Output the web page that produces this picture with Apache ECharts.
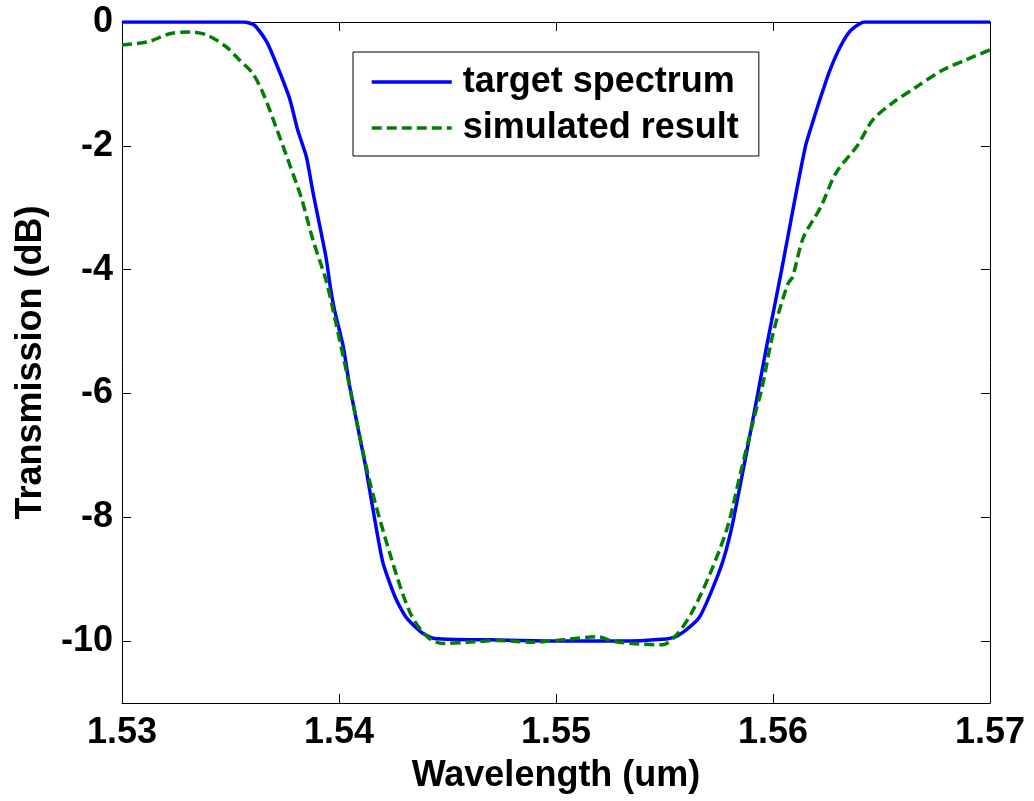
<!DOCTYPE html>
<html>
<head>
<meta charset="utf-8">
<script src="https://cdn.jsdelivr.net/npm/echarts@6/dist/echarts.min.js"></script>
<style>
html,body{margin:0;padding:0;background:#fff;}
#chart{width:1034px;height:801px;}
</style>
</head>
<body>
<div id="chart"></div>
<script>
var targetWavelength = [1.5300, 1.5356, 1.5361, 1.5367, 1.5377, 1.5381, 1.5385, 1.5388, 1.5394, 1.5396, 1.5398, 1.5402, 1.5405, 1.5412, 1.5420, 1.5426, 1.5431, 1.5438, 1.5443, 1.5450, 1.5470, 1.5500, 1.5530, 1.5549, 1.5555, 1.5560, 1.5566, 1.5571, 1.5577, 1.5582, 1.5593, 1.5597, 1.5604, 1.5610, 1.5615, 1.5618, 1.5622, 1.5626, 1.5631, 1.5636, 1.5642, 1.5700];
var targetTransmission = [0, 0, -0.05, -0.34, -1.21, -1.75, -2.18, -2.75, -3.80, -4.28, -4.66, -5.25, -5.90, -7.13, -8.70, -9.30, -9.62, -9.86, -9.95, -9.97, -9.98, -10.0, -10.0, -9.97, -9.93, -9.82, -9.62, -9.25, -8.70, -8.00, -6.00, -5.25, -4.00, -2.88, -2.00, -1.65, -1.21, -0.80, -0.40, -0.13, 0, 0];

var simWavelength = [1.5300, 1.5312, 1.5322, 1.5331, 1.5339, 1.5348, 1.5354, 1.5360, 1.5365, 1.5371, 1.5376, 1.5381, 1.5383, 1.5388, 1.5394, 1.5398, 1.5404, 1.5414, 1.5424, 1.5433, 1.5441, 1.5448, 1.5459, 1.5474, 1.5489, 1.5505, 1.5519, 1.5526, 1.5535, 1.5549, 1.5556, 1.5563, 1.5571, 1.5579, 1.5585, 1.5591, 1.5595, 1.5599, 1.5602, 1.5607, 1.5609, 1.5614, 1.5622, 1.5629, 1.5639, 1.5646, 1.5655, 1.5666, 1.5678, 1.5689, 1.5700];
var simTransmission = [-0.37, -0.32, -0.19, -0.16, -0.21, -0.40, -0.61, -0.82, -1.15, -1.70, -2.18, -2.67, -2.88, -3.52, -4.17, -4.77, -5.74, -7.40, -8.65, -9.56, -9.94, -10.04, -10.02, -9.99, -10.02, -9.97, -9.93, -10.00, -10.04, -10.06, -9.88, -9.51, -8.91, -8.16, -7.29, -6.43, -5.90, -5.19, -4.77, -4.22, -4.12, -3.48, -2.99, -2.44, -1.99, -1.58, -1.31, -1.05, -0.78, -0.61, -0.45];

var xTicks = [1.53, 1.54, 1.55, 1.56, 1.57];
var yTicks = [0, -2, -4, -6, -8, -10];

var seriesNames = ['target spectrum', 'simulated result'];

function pairs(xs, ys) {
  var out = [];
  for (var i = 0; i < xs.length; i++) out.push([xs[i], ys[i]]);
  return out;
}

var FONT = '"Liberation Sans", Arial, sans-serif';
var chart = echarts.init(document.getElementById('chart'), null, {renderer: 'canvas'});

var axisText = {fontFamily: FONT, fontWeight: 'bold', fontSize: 36, color: '#000'};

chart.setOption({
  animation: false,
  backgroundColor: '#fff',
  grid: {left: 122, right: 44, top: 22, bottom: 98, containLabel: false},
  legend: {
    left: 353, top: 52,
    orient: 'vertical',
    backgroundColor: '#fff',
    borderColor: '#000', borderWidth: 1,
    padding: [10, 20, 8, 17],
    itemWidth: 80, itemHeight: 14, itemGap: 6,
    itemStyle: {opacity: 0},
    textStyle: {fontFamily: FONT, fontWeight: 'bold', fontSize: 36, color: '#000', lineHeight: 40, padding: [0, 0, 0, 6]},
    data: [
      {name: seriesNames[0], lineStyle: {color: '#0000ff', width: 3.5, type: 'solid'}},
      {name: seriesNames[1], lineStyle: {color: '#008000', width: 3.5, type: [10, 5]}}
    ]
  },
  xAxis: [{
    type: 'value', min: 1.53, max: 1.57, interval: 0.01,
    position: 'bottom',
    name: 'Wavelength (um)', nameLocation: 'middle', nameGap: 55,
    nameTextStyle: axisText,
    axisLine: {show: true, onZero: false, lineStyle: {color: '#000', width: 1}},
    axisTick: {show: true, inside: true, length: 9, lineStyle: {color: '#000'}, customValues: xTicks},
    axisLabel: {show: true, margin: 12, customValues: xTicks, formatter: function(v){ return v.toFixed(2); }, fontFamily: FONT, fontWeight: 'bold', fontSize: 36, color: '#000'},
    splitLine: {show: false}
  }, {
    type: 'value', min: 1.53, max: 1.57, interval: 0.01,
    position: 'top',
    axisLine: {show: true, onZero: false, lineStyle: {color: '#000', width: 1}},
    axisTick: {show: true, inside: true, length: 9, lineStyle: {color: '#000'}, customValues: xTicks},
    axisLabel: {show: false},
    splitLine: {show: false}
  }],
  yAxis: [{
    type: 'value', min: -11, max: 0,
    position: 'left',
    name: 'Transmission (dB)', nameLocation: 'middle', nameGap: 73,
    nameTextStyle: axisText,
    axisLine: {show: true, onZero: false, lineStyle: {color: '#000', width: 1}},
    axisTick: {show: true, inside: true, length: 9, lineStyle: {color: '#000'}, customValues: yTicks},
    axisLabel: {show: true, margin: 9, customValues: yTicks, fontFamily: FONT, fontWeight: 'bold', fontSize: 36, color: '#000'},
    splitLine: {show: false}
  }, {
    type: 'value', min: -11, max: 0,
    position: 'right',
    axisLine: {show: true, onZero: false, lineStyle: {color: '#000', width: 1}},
    axisTick: {show: true, inside: true, length: 9, lineStyle: {color: '#000'}, customValues: yTicks},
    axisLabel: {show: false},
    splitLine: {show: false}
  }],
  series: [{
    name: seriesNames[0], type: 'line',
    xAxisIndex: 0, yAxisIndex: 0,
    data: pairs(targetWavelength, targetTransmission),
    symbol: 'none', smooth: 0.2,
    lineStyle: {color: '#0000ff', width: 3.5},
    itemStyle: {color: '#0000ff'},
    z: 2
  }, {
    name: seriesNames[1], type: 'line',
    xAxisIndex: 0, yAxisIndex: 0,
    data: pairs(simWavelength, simTransmission),
    symbol: 'none', smooth: 0.3,
    lineStyle: {color: '#008000', width: 3.5, type: [10, 5]},
    itemStyle: {color: '#008000'},
    z: 3
  }]
});
</script>
</body>
</html>
